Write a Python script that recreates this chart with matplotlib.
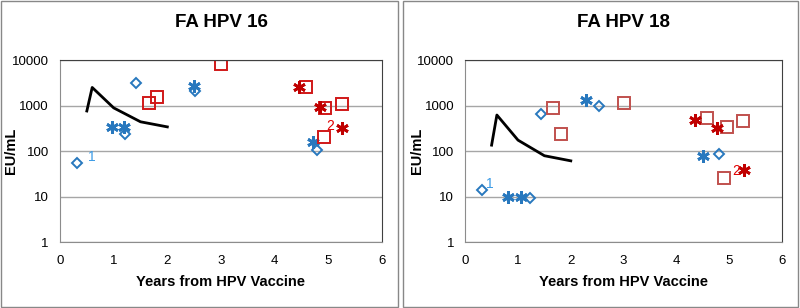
import matplotlib.pyplot as plt
from matplotlib.patches import Rectangle

plt.rcParams['font.family'] = ['Liberation Sans', 'DejaVu Sans']

# HPV 16 panel
h16_diam_x = [0.31, 1.22, 1.42, 2.52, 4.79]
h16_diam_y = [56, 234, 3090, 2130, 105]
h16_bstar_x = [0.97, 1.20, 2.50, 4.72]
h16_bstar_y = [337, 337, 2690, 160]
h16_sq_x = [1.65, 1.81, 3.00, 4.58, 4.94, 5.26, 4.91]
h16_sq_y = [1150, 1510, 8150, 2500, 870, 1060, 203]
h16_rstar_x = [4.46, 4.84, 5.25]
h16_rstar_y = [2500, 910, 315]
h16_line_x = [0.5, 0.6, 1.0, 1.5, 2.0]
h16_line_y = [760, 2500, 890, 440, 340]
h16_lab1 = (0.59, 75)
h16_lab2 = (5.03, 355)

# HPV 18 panel
h18_diam_x = [0.31, 1.23, 1.44, 2.53, 4.80]
h18_diam_y = [14, 9.4, 640, 970, 85]
h18_bstar_x = [0.81, 1.05, 2.28, 4.50]
h18_bstar_y = [10, 10, 1320, 78]
h18_sq_x = [1.66, 1.82, 3.00, 4.58, 4.95, 5.26, 4.91]
h18_sq_y = [870, 237, 1120, 540, 338, 465, 26]
h18_rstar_x = [4.36, 4.76, 5.28]
h18_rstar_y = [480, 325, 38]
h18_line_x = [0.5, 0.6, 1.0, 1.5, 2.0]
h18_line_y = [135, 620, 174, 79, 61]
h18_lab1 = (0.47, 18.5)
h18_lab2 = (5.14, 37)

blue = '#2878BE'
lab_blue = '#3C9BE6'
red_star = '#C00000'

fig = plt.figure(figsize=(8, 3.08), dpi=100)

# panel frames
fig.patches.append(Rectangle((0.001, 0.003), 0.496, 0.994, transform=fig.transFigure,
                             fill=False, edgecolor='#888888', lw=1))
fig.patches.append(Rectangle((0.504, 0.003), 0.494, 0.994, transform=fig.transFigure,
                             fill=False, edgecolor='#888888', lw=1))


def panel(rect, title, dx, dy, bx, by, sx, sy, sqcol, rx, ry, lx, ly, l1, l2, ylab_x):
    ax = fig.add_axes(rect)
    ax.set_yscale('log')
    ax.set_xlim(0, 6)
    ax.set_ylim(1, 10000)
    ax.set_yticks([1, 10, 100, 1000, 10000])
    ax.set_yticklabels(['1', '10', '100', '1000', '10000'])
    ax.minorticks_off()
    ax.grid(axis='y', color='#A6A6A6', lw=1)
    ax.set_axisbelow(True)
    ax.tick_params(axis='y', length=0, labelsize=9.5, pad=8)
    ax.tick_params(axis='x', length=0, labelsize=9.5, pad=9)
    for s in ['top', 'right']:
        ax.spines[s].set_color('#404040')
    for s in ['left', 'bottom']:
        ax.spines[s].set_color('#8C8C8C')
    ax.plot(lx, ly, color='black', lw=2)
    ax.plot(dx, dy, ls='none', marker='D', ms=5.5, mfc='none', mec=blue, mew=1.4)
    ax.plot(bx, by, ls='none', marker=(6, 2, 0), ms=9, mec=blue, mew=2)
    ax.plot(sx, sy, ls='none', marker='s', ms=8.5, mfc='none', mec=sqcol, mew=1.4)
    ax.plot(rx, ry, ls='none', marker=(6, 2, 0), ms=9, mec=red_star, mew=2)
    ax.text(l1[0], l1[1], '1', color=lab_blue, fontsize=10, ha='center', va='center')
    ax.text(l2[0], l2[1], '2', color='#E00000', fontsize=10, ha='center', va='center')
    ax.set_xlabel('Years from HPV Vaccine', fontsize=10.5, fontweight='bold', labelpad=6)
    ax.set_ylabel('EU/mL', fontsize=10.5, fontweight='bold')
    ax.yaxis.set_label_coords(ylab_x, 0.5)
    ax.set_title(title, fontsize=13.5, fontweight='bold', pad=24)
    return ax


panel([0.075, 0.214, 0.4025, 0.591], 'FA HPV 16', h16_diam_x, h16_diam_y,
      h16_bstar_x, h16_bstar_y, h16_sq_x, h16_sq_y, '#D01818',
      h16_rstar_x, h16_rstar_y, h16_line_x, h16_line_y, h16_lab1, h16_lab2, -0.13)
panel([0.5815, 0.214, 0.396, 0.591], 'FA HPV 18', h18_diam_x, h18_diam_y,
      h18_bstar_x, h18_bstar_y, h18_sq_x, h18_sq_y, '#C0504D',
      h18_rstar_x, h18_rstar_y, h18_line_x, h18_line_y, h18_lab1, h18_lab2, -0.13)

fig.savefig('out.png', dpi=100)
